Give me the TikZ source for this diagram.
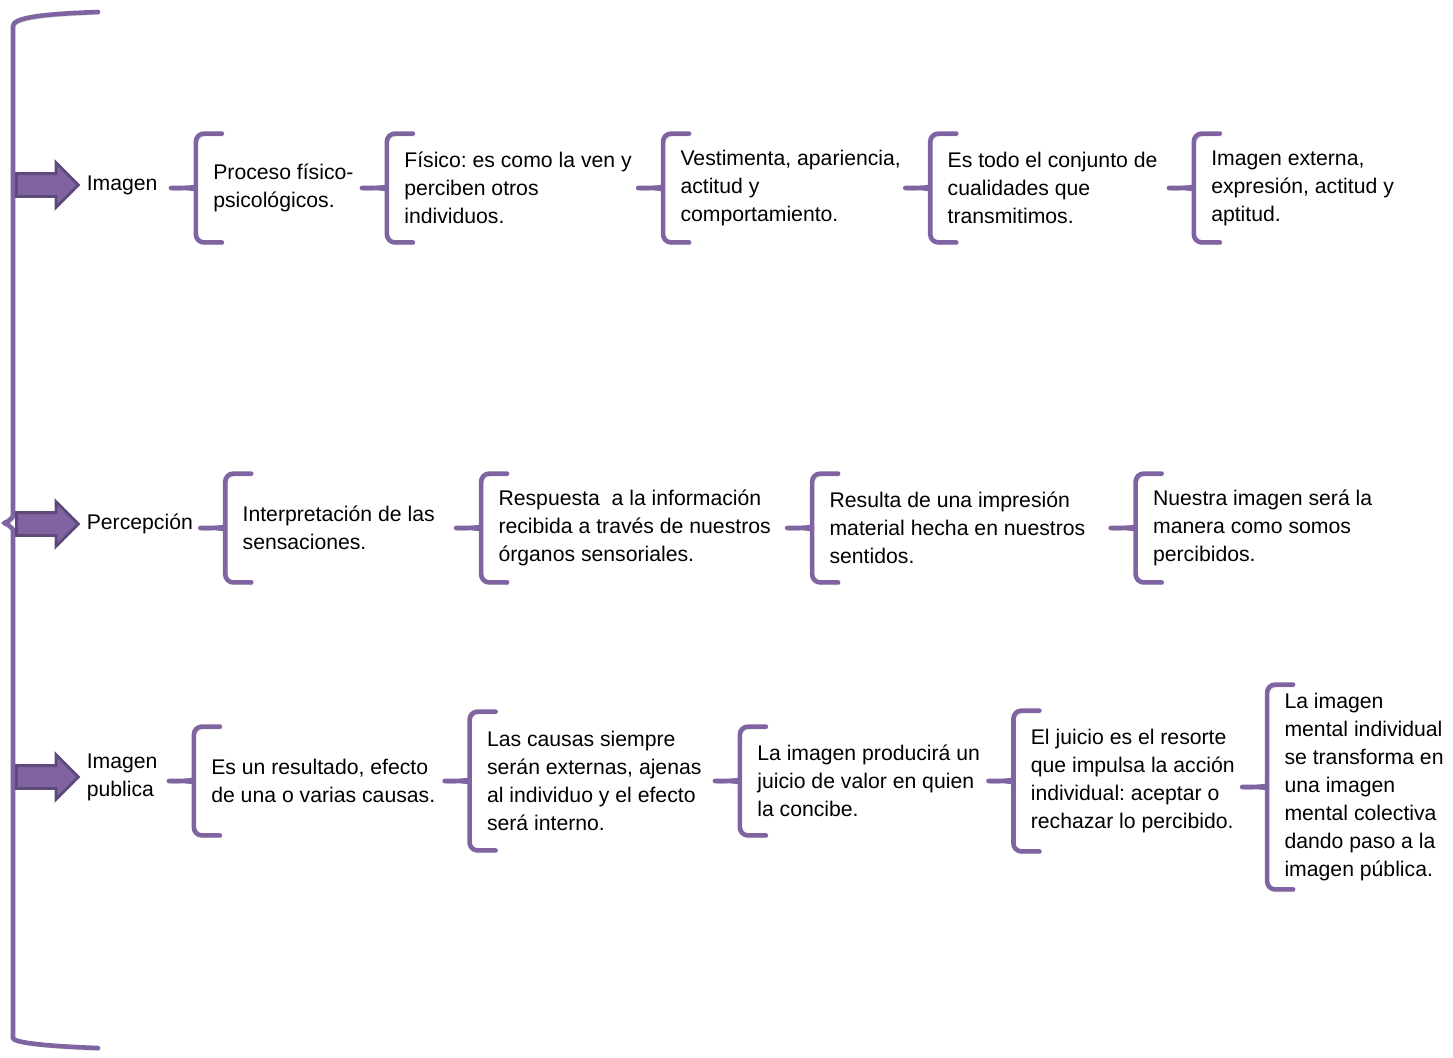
\documentclass[tikz,border=0pt]{standalone}
\usepackage{fontspec}
\setmainfont{Liberation Sans}
\usetikzlibrary{positioning,shapes.arrows}

\definecolor{purp}{HTML}{8064A2}
\definecolor{purpdark}{HTML}{5F497A}
\frenchspacing

\begin{document}
\begin{tikzpicture}[
    x=0.5pt, y=-0.5pt,
    font=\fontsize{10.6}{14}\selectfont,
    lab/.style={inner sep=0pt, align=left},
    txt/.style={inner sep=0pt, align=left, minimum height=54pt},
    blockarrow/.style={single arrow, draw=purpdark, fill=purp, line width=1.4pt, minimum height=31pt, inner xsep=0pt, inner ysep=5pt, single arrow head extend=5.5pt, anchor=west},
    bracket/.style={draw=purp, line width=2.3pt, line cap=round, rounded corners=4pt, preaction={draw=black!15, transform canvas={shift={(0.8pt,-1.2pt)}}}}
  ]
  \useasboundingbox (0,0) rectangle (1453,1057);

  % big bracket on the left
  \draw[bracket] (98,12) .. controls (40,14) and (13,18) .. (13,34) -- (13,508)
    .. controls (13,518) and (6,522) .. (0,523) .. controls (6,524) and (13,528) .. (13,538)
    -- (13,1030) .. controls (13,1042) and (40,1046) .. (98,1048);

  % row 1
  \node[blockarrow] (ar1) at (15,185) {};
  \node[lab, right=3pt of ar1] (lab1) {Imagen};
  \node[txt, right=27.5pt of lab1, yshift=-1.5pt] (b11) {Proceso físico-\\psicológicos.};
  \node[txt, right=25pt of b11] (b12) {Físico: es como la ven y\\perciben otros\\individuos.};
  \node[txt, right=24pt of b12] (b13) {Vestimenta, apariencia,\\actitud y\\comportamiento.};
  \node[txt, right=23pt of b13] (b14) {Es todo el conjunto de\\cualidades que\\transmitimos.};
  \node[txt, right=26.5pt of b14] (b15) {Imagen externa,\\expresión, actitud y\\aptitud.};

  % row 2
  \node[blockarrow] (ar2) at (15,524) {};
  \node[lab, right=3pt of ar2] (lab2) {Percepción};
  \node[txt, right=24.5pt of lab2, yshift=-2pt] (b21) {Interpretación de las\\sensaciones.};
  \node[txt, right=31.5pt of b21] (b22) {Respuesta~ a la información\\recibida a través de nuestros\\órganos sensoriales.};
  \node[txt, right=29pt of b22] (b23) {Resulta de una impresión\\material hecha en nuestros\\sentidos.};
  \node[txt, right=33.5pt of b23] (b24) {Nuestra imagen será la\\manera como somos\\percibidos.};

  % row 3
  \node[blockarrow] (ar3) at (15,777) {};
  \node[lab, right=3pt of ar3] (lab3) {Imagen\\publica};
  \node[txt, right=26.5pt of lab3, yshift=-2pt] (b31) {Es un resultado, efecto\\de una o varias causas.};
  \node[txt, right=25.5pt of b31, minimum height=69pt] (b32) {Las causas siempre\\serán externas, ajenas\\al individuo y el efecto\\será interno.};
  \node[txt, right=27.5pt of b32] (b33) {La imagen producirá un\\juicio de valor en quien\\la concibe.};
  \node[txt, right=25pt of b33, minimum height=70pt] (b34) {El juicio es el resorte\\que impulsa la acción\\individual: aceptar o\\rechazar lo percibido.};
  \node[txt, right=24.5pt of b34, yshift=-3pt, minimum height=102pt] (b35) {La imagen\\mental individual\\se transforma en\\una imagen\\mental colectiva\\dando paso a la\\imagen pública.};

  % brackets in front of every text
  \foreach \n in {b11,b12,b13,b14,b15,b21,b22,b23,b24,b31,b32,b33,b34,b35}
    \draw[bracket] ([xshift=4.5pt]\n.north west) -- ([xshift=-8.5pt]\n.north west)
      -- ([xshift=-8.5pt,yshift=4pt]\n.west) .. controls ([xshift=-8.5pt,yshift=0.5pt]\n.west) .. ([xshift=-13pt]\n.west)
      -- ([xshift=-21pt]\n.west)
      ([xshift=4.5pt]\n.south west) -- ([xshift=-8.5pt]\n.south west)
      -- ([xshift=-8.5pt,yshift=-4pt]\n.west) .. controls ([xshift=-8.5pt,yshift=-0.5pt]\n.west) .. ([xshift=-13pt]\n.west);
\end{tikzpicture}
\end{document}
